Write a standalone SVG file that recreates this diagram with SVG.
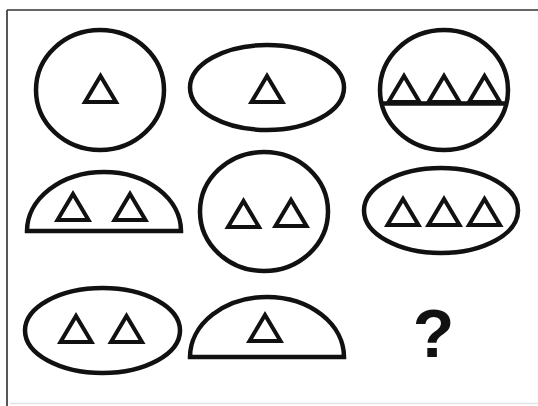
<svg xmlns="http://www.w3.org/2000/svg" xmlns:xlink="http://www.w3.org/1999/xlink" width="538" height="406" viewBox="0 0 538 406">
<style>
.s{fill:none;stroke:#111;stroke-width:4.5}
.t{fill:none;stroke:#111;stroke-width:4;stroke-linejoin:miter}
.q{font-family:"Liberation Sans",Arial,sans-serif;font-weight:bold;font-size:68px;fill:#111;text-anchor:middle}
</style>
<defs>
<path id="tri" class="t" d="M-15.5,0 L15.5,0 L0,-26 Z"/>
</defs>
<rect x="0" y="0" width="538" height="406" fill="#fff"/>
<g id="frame">
<line x1="7" y1="10" x2="538" y2="10" stroke="#333" stroke-width="1.5"/>
<line x1="7" y1="10" x2="7" y2="406" stroke="#444" stroke-width="1.8"/>
<line x1="10" y1="403.5" x2="538" y2="403.5" stroke="#e4e4e4" stroke-width="1.5"/>
</g>
<g id="n1">
<ellipse class="s" cx="100" cy="90" rx="64" ry="60"/>
<use xlink:href="#tri" transform="translate(100.5,102)"/>
</g>
<g id="n2">
<ellipse class="s" cx="267" cy="87.5" rx="77" ry="42.5"/>
<use xlink:href="#tri" transform="translate(267,102)"/>
</g>
<g id="n3">
<ellipse class="s" cx="444" cy="90" rx="64" ry="60"/>
<line class="s" x1="381.6" y1="103.5" x2="506.4" y2="103.5"/>
<use xlink:href="#tri" transform="translate(404,102)"/>
<use xlink:href="#tri" transform="translate(444,102)"/>
<use xlink:href="#tri" transform="translate(484.5,102)"/>
</g>
<g id="n4">
<path class="s" d="M27,231 A77,59 0 0 1 181,231 Z"/>
<use xlink:href="#tri" transform="translate(73,220)"/>
<use xlink:href="#tri" transform="translate(130,220)"/>
</g>
<g id="n5">
<ellipse class="s" cx="264" cy="211.5" rx="64" ry="59.5"/>
<use xlink:href="#tri" transform="translate(243.5,227)"/>
<use xlink:href="#tri" transform="translate(291,226)"/>
</g>
<g id="n6">
<ellipse class="s" cx="441" cy="210.5" rx="77" ry="42.5"/>
<use xlink:href="#tri" transform="translate(403,225)"/>
<use xlink:href="#tri" transform="translate(444,225)"/>
<use xlink:href="#tri" transform="translate(484.5,225)"/>
</g>
<g id="n7">
<ellipse class="s" cx="102.5" cy="330.5" rx="77.5" ry="42.5"/>
<use xlink:href="#tri" transform="translate(76,342)"/>
<use xlink:href="#tri" transform="translate(126.5,342)"/>
</g>
<g id="n8">
<path class="s" d="M190,357 A77,60 0 0 1 344,357 Z"/>
<use xlink:href="#tri" transform="translate(265,341)"/>
</g>
<g id="n9">
<text class="q" x="433.5" y="357">?</text>
</g>
<g id="connectors"/>
</svg>
